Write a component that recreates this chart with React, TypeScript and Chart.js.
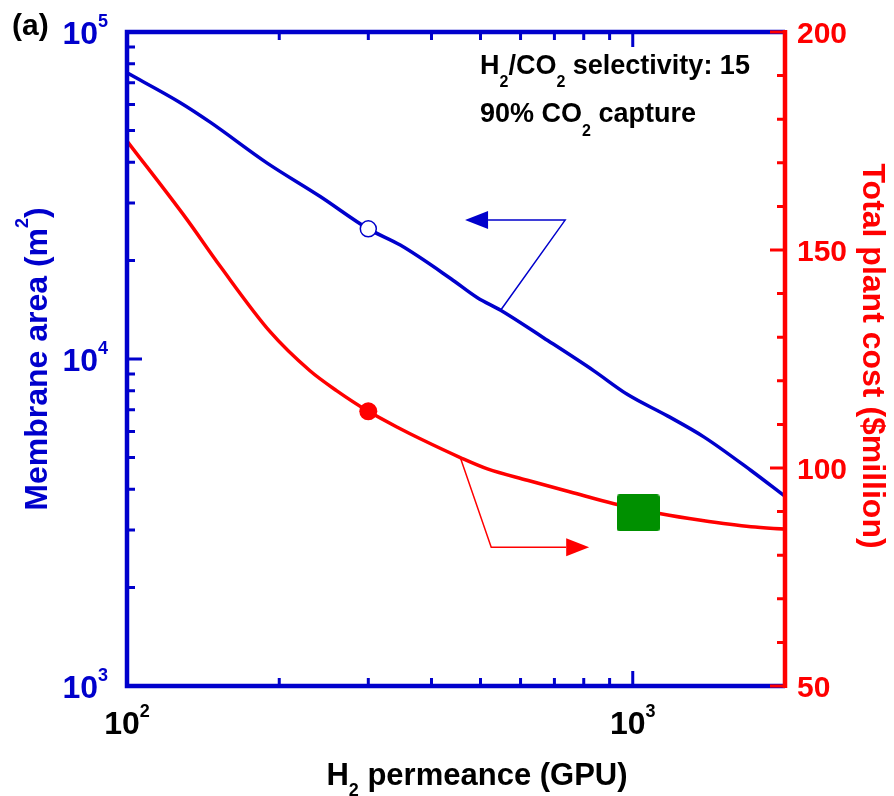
import React, { useEffect, useRef } from 'react';
import { Chart, registerables } from 'chart.js';

Chart.register(...registerables);

// ---------- data ----------
const permeanceBlue = [100, 127, 146, 189, 241, 300, 347, 437, 493, 548, 667, 838, 975, 1171, 1384, 1713, 2000];
const membraneArea = [75000, 61000, 53000, 39800, 31400, 25000, 22300, 17600, 15400, 14100, 11600, 9200, 7800, 6700, 5770, 4560, 3800];

const permeanceRed = [100, 131, 153, 192, 230, 260, 300, 347, 380, 456, 516, 619, 753, 918, 1136, 1363, 1713, 2000];
const plantCost = [175, 157.2, 146.2, 131.2, 122.3, 117.7, 113.0, 109.0, 106.7, 102.4, 99.8, 97.2, 94.5, 91.8, 89.5, 88.0, 86.5, 86.0];

const markerPermeance = [300];
const markerArea = [25000];
const markerCost = [113];
const selectedPermeance = [1025];
const selectedCost = [89.7];

// annotation arrows in data units: [x, y]
const blueArrowPts = [[548, 14100], [735, 26590], [466, 26590]];
const redArrowPts = [[456, 102.4], [525, 81.8], [820, 81.8]];

// ticks
const xMajorTicks = [100, 1000];
const xMinorTicks = [200, 300, 400, 500, 600, 700, 800, 900];
const xTickExponents = ['2', '3'];
const leftMajorTicks = [1000, 10000, 100000];
const leftMinorTicks = [2000, 3000, 4000, 5000, 6000, 7000, 8000, 9000, 20000, 30000, 40000, 50000, 60000, 70000, 80000, 90000];
const leftTickExponents = ['3', '4', '5'];
const rightMajorTicks = [50, 100, 150, 200];
const rightMinorTicks = [60, 70, 80, 90, 110, 120, 130, 140, 160, 170, 180, 190];
const rightTickLabels = ['50', '100', '150', '200'];

// ---------- styles ----------
const FONT = '"Liberation Sans", Arial, Helvetica, sans-serif';
const BLUE = '#0000CC';
const RED = '#FF0000';
const GREEN = '#009000';

type Seg = { t: string; size: number; dy: number };

function segWidth(ctx: CanvasRenderingContext2D, segs: Seg[]) {
  let w = 0;
  for (const s of segs) {
    ctx.font = `bold ${s.size}px ${FONT}`;
    w += ctx.measureText(s.t).width;
  }
  return w;
}

function drawSegs(ctx: CanvasRenderingContext2D, segs: Seg[], x: number, y: number) {
  let cx = x;
  ctx.textAlign = 'left';
  ctx.textBaseline = 'alphabetic';
  for (const s of segs) {
    ctx.font = `bold ${s.size}px ${FONT}`;
    ctx.fillText(s.t, cx, y + s.dy);
    cx += ctx.measureText(s.t).width;
  }
}

function drawArrow(ctx: CanvasRenderingContext2D, pts: number[][], color: string) {
  const headLen = 23;
  const headHalf = 9;
  const n = pts.length;
  const tip = pts[n - 1];
  const prev = pts[n - 2];
  const ang = Math.atan2(tip[1] - prev[1], tip[0] - prev[0]);
  const bx = tip[0] - headLen * Math.cos(ang);
  const by = tip[1] - headLen * Math.sin(ang);
  ctx.save();
  ctx.strokeStyle = color;
  ctx.fillStyle = color;
  ctx.lineWidth = 1.5;
  ctx.beginPath();
  ctx.moveTo(pts[0][0], pts[0][1]);
  for (let i = 1; i < n - 1; i++) ctx.lineTo(pts[i][0], pts[i][1]);
  ctx.lineTo(bx, by);
  ctx.stroke();
  const px = -Math.sin(ang) * headHalf;
  const py = Math.cos(ang) * headHalf;
  ctx.beginPath();
  ctx.moveTo(tip[0], tip[1]);
  ctx.lineTo(bx + px, by + py);
  ctx.lineTo(bx - px, by - py);
  ctx.closePath();
  ctx.fill();
  ctx.restore();
}

const decorPlugin = {
  id: 'decor',
  afterDatasetsDraw(chart: any) {
    const ctx: CanvasRenderingContext2D = chart.ctx;
    const { left, right, top, bottom } = chart.chartArea;
    const xs = chart.scales.x;
    const yl = chart.scales.yL;
    const yr = chart.scales.yR;

    ctx.save();

    // arrows
    drawArrow(ctx, blueArrowPts.map(p => [xs.getPixelForValue(p[0]), yl.getPixelForValue(p[1])]), BLUE);
    drawArrow(ctx, redArrowPts.map(p => [xs.getPixelForValue(p[0]), yr.getPixelForValue(p[1])]), RED);

    // frame
    ctx.lineCap = 'butt';
    ctx.lineWidth = 4.5;
    ctx.strokeStyle = BLUE;
    ctx.beginPath();
    ctx.moveTo(right, top);
    ctx.lineTo(left, top);
    ctx.lineTo(left, bottom);
    ctx.lineTo(right, bottom);
    ctx.stroke();

    // x ticks (top and bottom, inward)
    ctx.lineWidth = 3;
    ctx.beginPath();
    const xt = (v: number, len: number) => {
      const p = xs.getPixelForValue(v);
      ctx.moveTo(p, bottom);
      ctx.lineTo(p, bottom - len);
      ctx.moveTo(p, top);
      ctx.lineTo(p, top + len);
    };
    xMinorTicks.forEach(v => xt(v, 8));
    xMajorTicks.forEach(v => xt(v, 15));
    // left ticks
    const ylt = (v: number, len: number) => {
      const p = yl.getPixelForValue(v);
      ctx.moveTo(left, p);
      ctx.lineTo(left + len, p);
    };
    leftMinorTicks.forEach(v => ylt(v, 8));
    leftMajorTicks.forEach(v => ylt(v, 15));
    ctx.stroke();

    // right axis
    ctx.strokeStyle = RED;
    ctx.lineWidth = 4.5;
    ctx.beginPath();
    ctx.moveTo(right, top - 2);
    ctx.lineTo(right, bottom + 2);
    ctx.stroke();
    ctx.lineWidth = 3;
    ctx.beginPath();
    const yrt = (v: number, len: number) => {
      const p = yr.getPixelForValue(v);
      ctx.moveTo(right, p);
      ctx.lineTo(right - len, p);
    };
    rightMinorTicks.forEach(v => yrt(v, 8));
    rightMajorTicks.forEach(v => yrt(v, 15));
    ctx.stroke();

    // x tick labels
    ctx.fillStyle = '#000000';
    xMajorTicks.forEach((v, i) => {
      const segs: Seg[] = [{ t: '10', size: 32, dy: 0 }, { t: xTickExponents[i], size: 18, dy: -17 }];
      const w = segWidth(ctx, segs);
      drawSegs(ctx, segs, xs.getPixelForValue(v) - w / 2, bottom + 48);
    });

    // left tick labels
    ctx.fillStyle = BLUE;
    leftMajorTicks.forEach((v, i) => {
      const segs: Seg[] = [{ t: '10', size: 32, dy: 0 }, { t: leftTickExponents[i], size: 18, dy: -17 }];
      const w = segWidth(ctx, segs);
      drawSegs(ctx, segs, left - 19 - w, yl.getPixelForValue(v) + 11.5);
    });

    // right tick labels
    ctx.fillStyle = RED;
    rightMajorTicks.forEach((v, i) => {
      drawSegs(ctx, [{ t: rightTickLabels[i], size: 30, dy: 0 }], right + 12, yr.getPixelForValue(v) + 10.5);
    });

    // left axis title
    ctx.save();
    ctx.fillStyle = BLUE;
    ctx.translate(47, (top + bottom) / 2);
    ctx.rotate(-Math.PI / 2);
    const lt: Seg[] = [
      { t: 'Membrane area (m', size: 32, dy: 0 },
      { t: '2', size: 18, dy: -19 },
      { t: ')', size: 32, dy: 0 },
    ];
    drawSegs(ctx, lt, -segWidth(ctx, lt) / 2, 0);
    ctx.restore();

    // right axis title
    ctx.save();
    ctx.fillStyle = RED;
    ctx.translate(863, (top + bottom) / 2 - 3);
    ctx.rotate(Math.PI / 2);
    const rt: Seg[] = [{ t: 'Total plant cost ($million)', size: 32, dy: 0 }];
    drawSegs(ctx, rt, -segWidth(ctx, rt) / 2, 0);
    ctx.restore();

    // x axis title
    ctx.fillStyle = '#000000';
    const bt: Seg[] = [
      { t: 'H', size: 31, dy: 0 },
      { t: '2', size: 18, dy: 11 },
      { t: ' permeance (GPU)', size: 31, dy: 0 },
    ];
    drawSegs(ctx, bt, 477 - segWidth(ctx, bt) / 2, bottom + 99);

    // panel label
    drawSegs(ctx, [{ t: '(a)', size: 30, dy: 0 }], 12, 35);

    // annotation text
    drawSegs(ctx, [
      { t: 'H', size: 27, dy: 0 },
      { t: '2', size: 16, dy: 13 },
      { t: '/CO', size: 27, dy: 0 },
      { t: '2', size: 16, dy: 13 },
      { t: ' selectivity: 15', size: 27, dy: 0 },
    ], 480, 74);
    drawSegs(ctx, [
      { t: '90% CO', size: 27, dy: 0 },
      { t: '2', size: 16, dy: 14 },
      { t: ' capture', size: 27, dy: 0 },
    ], 480, 122);

    ctx.restore();
  },
};

function makeSquare(): HTMLCanvasElement {
  const c = document.createElement('canvas');
  c.width = 43;
  c.height = 37;
  const g = c.getContext('2d')!;
  g.fillStyle = GREEN;
  const r = 3;
  g.beginPath();
  g.moveTo(r, 0);
  g.lineTo(43 - r, 0);
  g.quadraticCurveTo(43, 0, 43, r);
  g.lineTo(43, 37 - r);
  g.quadraticCurveTo(43, 37, 43 - r, 37);
  g.lineTo(r, 37);
  g.quadraticCurveTo(0, 37, 0, 37 - r);
  g.lineTo(0, r);
  g.quadraticCurveTo(0, 0, r, 0);
  g.closePath();
  g.fill();
  return c;
}

export default function App() {
  const ref = useRef<HTMLCanvasElement>(null);

  useEffect(() => {
    if (!ref.current) return;
    const chart = new Chart(ref.current, {
      type: 'scatter',
      data: {
        datasets: [
          {
            label: 'selected',
            data: selectedPermeance.map((x, i) => ({ x, y: selectedCost[i] })),
            yAxisID: 'yR',
            pointStyle: makeSquare() as any,
            pointRadius: 20,
            showLine: false,
            order: 0,
          },
          {
            label: 'area marker',
            data: markerPermeance.map((x, i) => ({ x, y: markerArea[i] })),
            yAxisID: 'yL',
            pointRadius: 8,
            pointBackgroundColor: '#FFFFFF',
            pointBorderColor: BLUE,
            pointBorderWidth: 1.5,
            showLine: false,
            order: 0,
          },
          {
            label: 'cost marker',
            data: markerPermeance.map((x, i) => ({ x, y: markerCost[i] })),
            yAxisID: 'yR',
            pointRadius: 9,
            pointBackgroundColor: RED,
            pointBorderColor: RED,
            pointBorderWidth: 0,
            showLine: false,
            order: 0,
          },
          {
            label: 'Membrane area',
            data: permeanceBlue.map((x, i) => ({ x, y: membraneArea[i] })),
            yAxisID: 'yL',
            showLine: true,
            borderColor: BLUE,
            borderWidth: 3.5,
            pointRadius: 0,
            cubicInterpolationMode: 'monotone',
            order: 1,
          },
          {
            label: 'Total plant cost',
            data: permeanceRed.map((x, i) => ({ x, y: plantCost[i] })),
            yAxisID: 'yR',
            showLine: true,
            borderColor: RED,
            borderWidth: 3.5,
            pointRadius: 0,
            cubicInterpolationMode: 'monotone',
            order: 1,
          },
        ],
      },
      options: {
        animation: false,
        responsive: false,
        devicePixelRatio: 1,
        layout: { padding: { left: 127, right: 109, top: 32, bottom: 110 } },
        plugins: { legend: { display: false }, tooltip: { enabled: false } },
        scales: {
          x: { type: 'logarithmic', min: 100, max: 2000, display: false },
          yL: { type: 'logarithmic', position: 'left', min: 1000, max: 100000, display: false },
          yR: { type: 'linear', position: 'right', min: 50, max: 200, display: false },
        },
      },
      plugins: [decorPlugin],
    });
    return () => chart.destroy();
  }, []);

  return (
    <div style={{ position: 'fixed', left: 0, top: 0, width: 894, height: 796, background: '#FFFFFF' }}>
      <canvas ref={ref} width={894} height={796} style={{ display: 'block' }} />
    </div>
  );
}
